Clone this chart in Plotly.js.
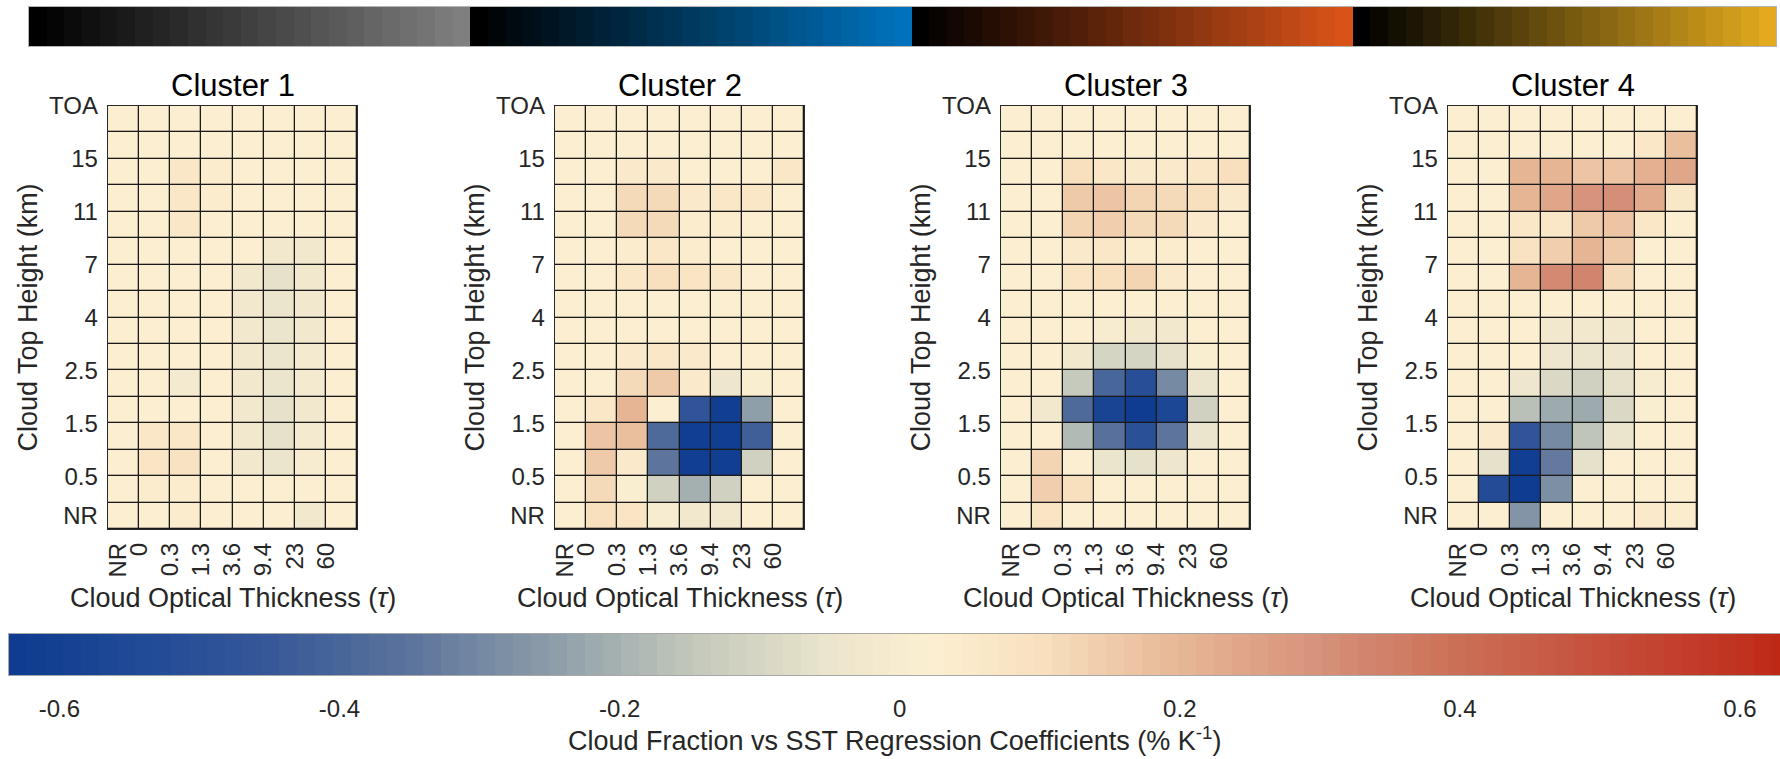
<!DOCTYPE html>
<html>
<head>
<meta charset="utf-8">
<script src="https://cdn.plot.ly/plotly-3.0.1.min.js"></script>
<style>
  html, body { margin: 0; padding: 0; background: #ffffff; }
  #chart { width: 1780px; height: 759px; }
</style>
</head>
<body>
<div id="chart"></div>
<script>
// Regression of cloud fraction on SST in CTH-tau joint histogram space, four clusters.
// Rows run from the top bin (TOA) down to the NR bin; columns run over optical thickness bins.

const clusterNames = ['Cluster 1', 'Cluster 2', 'Cluster 3', 'Cluster 4'];

const tauTickText = ['NR', '0', '0.3', '1.3', '3.6', '9.4', '23', '60'];
const cthTickText = ['NR', '0.5', '1.5', '2.5', '4', '7', '11', '15', 'TOA'];

const cluster1 = [
  [0.03, 0.03, 0.03, 0.03, 0.03, 0.03, 0.03, 0.03],
  [0.03, 0.03, 0.02, 0.02, 0.03, 0.03, 0.03, 0.03],
  [0.03, 0.03, 0.06, 0.04, 0.03, 0.03, 0.03, 0.03],
  [0.03, 0.03, 0.07, 0.04, 0.03, 0.03, 0.03, 0.03],
  [0.03, 0.03, 0.06, 0.03, 0.03, 0.02, 0.02, 0.03],
  [0.03, 0.03, 0.03, 0.03, 0.02, -0.03, -0.02, 0.03],
  [0.03, 0.03, 0.03, 0.03, -0.03, -0.06, -0.03, 0.03],
  [0.03, 0.03, 0.03, 0.03, -0.02, -0.05, -0.02, 0.02],
  [0.03, 0.03, 0.03, 0.02, -0.02, -0.05, -0.02, 0.02],
  [0.03, 0.03, 0.02, 0.02, -0.02, -0.05, -0.01, 0.02],
  [0.03, 0.03, -0.01, 0.02, -0.02, -0.05, -0.01, 0.02],
  [0.03, 0.03, 0.02, 0.02, -0.02, -0.06, -0.02, 0.02],
  [0.03, 0.06, 0.07, 0.03, -0.02, -0.06, -0.01, 0.02],
  [0.03, 0.08, 0.09, 0.03, -0.02, -0.05, 0.00, 0.02],
  [0.03, 0.04, 0.04, 0.03, 0.02, 0.02, 0.02, 0.03],
  [0.03, 0.03, 0.04, 0.02, 0.02, 0.02, -0.03, 0.02]
];

const cluster2 = [
  [0.03, 0.02, 0.02, 0.02, 0.02, 0.02, 0.02, 0.03],
  [0.03, 0.02, 0.02, 0.02, 0.03, 0.03, 0.03, 0.03],
  [0.03, 0.02, 0.05, 0.05, 0.03, 0.03, 0.03, 0.06],
  [0.03, 0.02, 0.12, 0.12, 0.05, 0.06, 0.06, 0.03],
  [0.03, 0.02, 0.12, 0.12, 0.04, 0.04, 0.03, 0.03],
  [0.03, 0.02, 0.04, 0.06, 0.04, 0.03, 0.03, 0.03],
  [0.03, 0.02, 0.06, 0.10, 0.08, 0.07, 0.03, 0.03],
  [0.03, 0.02, 0.02, 0.03, 0.03, 0.03, 0.03, 0.03],
  [0.03, 0.02, 0.03, 0.03, 0.03, 0.03, 0.03, 0.03],
  [0.03, 0.03, 0.05, 0.07, 0.05, 0.03, 0.03, 0.03],
  [0.03, 0.03, 0.12, 0.16, 0.05, -0.04, 0.01, 0.03],
  [0.03, 0.06, 0.21, 0.02, -0.47, -0.62, -0.24, 0.03],
  [0.03, 0.17, 0.18, -0.38, -0.62, -0.62, -0.43, 0.03],
  [0.03, 0.15, 0.05, -0.35, -0.62, -0.62, -0.12, 0.03],
  [0.03, 0.12, 0.01, -0.12, -0.20, -0.12, 0.03, 0.03],
  [0.03, 0.10, 0.08, 0.00, -0.03, -0.02, 0.03, 0.03]
];

const cluster3 = [
  [0.03, 0.03, 0.03, 0.03, 0.03, 0.03, 0.03, 0.03],
  [0.03, 0.03, 0.03, 0.03, 0.03, 0.03, 0.03, 0.03],
  [0.03, 0.02, 0.10, 0.07, 0.05, 0.05, 0.07, 0.10],
  [0.03, 0.02, 0.16, 0.17, 0.13, 0.12, 0.10, 0.05],
  [0.03, 0.02, 0.13, 0.14, 0.12, 0.12, 0.05, 0.03],
  [0.03, 0.02, 0.05, 0.06, 0.04, 0.04, 0.03, 0.03],
  [0.03, 0.02, 0.08, 0.10, 0.13, 0.05, 0.03, 0.03],
  [0.03, 0.03, 0.03, 0.03, 0.03, 0.03, 0.03, 0.03],
  [0.03, 0.03, 0.03, 0.00, -0.02, -0.02, 0.02, 0.03],
  [0.03, 0.03, -0.03, -0.10, -0.10, -0.07, 0.01, 0.03],
  [0.03, 0.03, -0.14, -0.40, -0.52, -0.30, -0.05, 0.03],
  [0.03, -0.03, -0.38, -0.58, -0.64, -0.56, -0.12, 0.03],
  [0.03, 0.03, -0.18, -0.36, -0.50, -0.35, -0.05, 0.03],
  [0.03, 0.13, 0.03, -0.05, -0.06, -0.04, 0.02, 0.03],
  [0.03, 0.14, 0.10, 0.03, 0.03, 0.03, 0.03, 0.03],
  [0.03, 0.08, 0.03, 0.03, 0.03, 0.03, 0.03, 0.03]
];

const cluster4 = [
  [0.03, 0.03, 0.03, 0.03, 0.03, 0.03, 0.03, 0.03],
  [0.03, 0.03, 0.03, 0.03, 0.03, 0.03, 0.06, 0.18],
  [0.03, 0.02, 0.20, 0.20, 0.17, 0.17, 0.22, 0.25],
  [0.03, 0.02, 0.20, 0.24, 0.29, 0.31, 0.23, 0.07],
  [0.03, 0.03, 0.06, 0.06, 0.15, 0.17, 0.06, 0.03],
  [0.03, 0.03, 0.09, 0.14, 0.21, 0.16, 0.03, 0.03],
  [0.03, 0.03, 0.20, 0.32, 0.34, 0.12, 0.03, 0.03],
  [0.03, 0.03, 0.03, 0.03, 0.02, 0.03, 0.03, 0.03],
  [0.03, 0.03, 0.02, -0.02, -0.03, -0.03, 0.02, 0.03],
  [0.03, 0.03, 0.02, -0.04, -0.05, -0.04, 0.02, 0.03],
  [0.03, 0.03, -0.04, -0.09, -0.11, -0.07, 0.00, 0.03],
  [0.03, 0.03, -0.17, -0.22, -0.22, -0.09, 0.01, 0.03],
  [0.03, 0.05, -0.48, -0.30, -0.15, -0.05, 0.02, 0.03],
  [0.03, -0.06, -0.62, -0.34, -0.07, 0.02, 0.03, 0.03],
  [0.03, -0.53, -0.63, -0.28, 0.03, 0.03, 0.03, 0.03],
  [0.03, 0.03, -0.27, 0.03, 0.03, 0.03, 0.05, 0.04]
];

const clusterData = [cluster1, cluster2, cluster3, cluster4];

// Diverging colormap anchors (value, colour) and its colour limits
const cmapValues = [-0.636, -0.55, -0.45, -0.35, -0.25, -0.15, -0.05, 0.02, 0.10, 0.20, 0.30, 0.40, 0.50, 0.60, 0.636];
const cmapColors = ['#0e3b90', '#1f4996', '#365898', '#5b749c', '#8c9ca8', '#c2c7bb', '#ebe5cc', '#fcefd1',
                    '#f8e0bf', '#e7b796', '#d6917a', '#cb6f56', '#c54f3b', '#c03220', '#bd2714'];
const cmapLevels = 99;
const climits = [-0.636, 0.636];
const cbarTicks = [-0.6, -0.4, -0.2, 0, 0.2, 0.4, 0.6];
const cbarTickText = ['-0.6', '-0.4', '-0.2', '0', '0.2', '0.4', '0.6'];

// Cluster identification strip: each cluster ramps from black to its colour
const clusterShades = ['#7f7f7f', '#0072bd', '#d95319', '#edb120'];
const shadeSteps = 25;

const W = 1780, H = 759;
const plotLefts = [108, 555, 1001, 1448];
const plotWidth = 249;
const plotTop = 106, plotBottom = 529;

function hexToRgb(h) {
  return [parseInt(h.slice(1, 3), 16), parseInt(h.slice(3, 5), 16), parseInt(h.slice(5, 7), 16)];
}
function rgbStr(c) {
  return 'rgb(' + c.map(v => Math.round(v)).join(',') + ')';
}
function cmapAt(v) {
  if (v <= cmapValues[0]) return hexToRgb(cmapColors[0]);
  for (let i = 1; i < cmapValues.length; i++) {
    if (v <= cmapValues[i]) {
      const t = (v - cmapValues[i - 1]) / (cmapValues[i] - cmapValues[i - 1]);
      const a = hexToRgb(cmapColors[i - 1]), b = hexToRgb(cmapColors[i]);
      return a.map((x, k) => x + (b[k] - x) * t);
    }
  }
  return hexToRgb(cmapColors[cmapColors.length - 1]);
}

// Quantised colorscale, like a colormap with a fixed number of entries
const divergingScale = [];
const levelCenters = [];
for (let i = 0; i < cmapLevels; i++) {
  const v = climits[0] + (i + 0.5) * (climits[1] - climits[0]) / cmapLevels;
  levelCenters.push(v);
  const c = rgbStr(cmapAt(v));
  divergingScale.push([i / cmapLevels, c]);
  divergingScale.push([(i + 1) / cmapLevels, c]);
}

// Strip colorscale
const stripScale = [];
const stripIndex = [];
const nStrip = clusterShades.length * shadeSteps;
clusterShades.forEach((hex, s) => {
  const end = hexToRgb(hex);
  for (let k = 0; k < shadeSteps; k++) {
    const idx = s * shadeSteps + k;
    const c = rgbStr(end.map(x => x * k / (shadeSteps - 1)));
    stripScale.push([idx / nStrip, c]);
    stripScale.push([(idx + 1) / nStrip, c]);
    stripIndex.push(idx + 0.5);
  }
});

const rowPos = [];
for (let r = 15; r >= 0; r--) rowPos.push(r);
const colPos = [0, 1, 2, 3, 4, 5, 6, 7];
const tauTickVals = [-0.18, 0.5, 1.5, 2.5, 3.5, 4.5, 5.5, 6.5];
const cthTickVals = [0, 1.5, 3.5, 5.5, 7.5, 9.5, 11.5, 13.5, 15.5];

const FONT = 'Liberation Sans, Arial, Helvetica, sans-serif';
const textColor = '#262626';
const tickSize = 24, labelSize = 27, titleSize = 31;

const traces = [];
const layout = {
  width: W, height: H,
  margin: {l: 0, r: 0, t: 0, b: 0, pad: 0},
  paper_bgcolor: '#ffffff',
  plot_bgcolor: '#1a1a1a',
  showlegend: false,
  font: {family: FONT, color: textColor, size: tickSize},
  annotations: []
};

clusterData.forEach((z, i) => {
  const n = i + 1;
  const xa = 'x' + (n === 1 ? '' : n), ya = 'y' + (n === 1 ? '' : n);
  traces.push({
    type: 'heatmap', z: z, x: colPos, y: rowPos,
    xaxis: xa, yaxis: ya,
    colorscale: divergingScale, zmin: climits[0], zmax: climits[1],
    showscale: false, xgap: 1.3, ygap: 1.3, hoverinfo: 'skip'
  });
  const left = plotLefts[i];
  layout['xaxis' + (n === 1 ? '' : n)] = {
    domain: [left / W, (left + plotWidth) / W], anchor: ya,
    range: [-0.5, 7.5], tickmode: 'array', tickvals: tauTickVals, ticktext: tauTickText,
    tickangle: -90, ticks: '', ticklabelstandoff: 3,
    showgrid: false, zeroline: false, showline: true, mirror: true,
    linecolor: '#2a2a2a', linewidth: 1.3, fixedrange: true,
    tickfont: {family: FONT, size: tickSize, color: textColor}
  };
  layout['yaxis' + (n === 1 ? '' : n)] = {
    domain: [1 - plotBottom / H, 1 - plotTop / H], anchor: xa,
    range: [-0.5, 15.5], tickmode: 'array', tickvals: cthTickVals, ticktext: cthTickText,
    ticks: '', ticklabelstandoff: 4,
    showgrid: false, zeroline: false, showline: true, mirror: true,
    linecolor: '#2a2a2a', linewidth: 1.3, fixedrange: true,
    tickfont: {family: FONT, size: tickSize, color: textColor}
  };
  const cx = left + plotWidth / 2;
  layout.annotations.push({
    text: clusterNames[i], xref: 'paper', yref: 'paper',
    x: cx / W, y: 1 - 86 / H, xanchor: 'center', yanchor: 'middle',
    showarrow: false, font: {family: FONT, size: titleSize, color: '#000000'}
  });
  layout.annotations.push({
    text: 'Cloud Optical Thickness (<i>τ</i>)', xref: 'paper', yref: 'paper',
    x: cx / W, y: 1 - 598 / H, xanchor: 'center', yanchor: 'middle',
    showarrow: false, font: {family: FONT, size: labelSize, color: textColor}
  });
  layout.annotations.push({
    text: 'Cloud Top Height (km)', xref: 'paper', yref: 'paper',
    x: (left - 81) / W, y: 1 - (plotTop + plotBottom) / 2 / H,
    xanchor: 'center', yanchor: 'middle', textangle: -90,
    showarrow: false, font: {family: FONT, size: labelSize, color: textColor}
  });
});

// Cluster colour strip along the top
traces.push({
  type: 'heatmap', z: [stripIndex], x: stripIndex.map((v, k) => k), y: [0],
  xaxis: 'x5', yaxis: 'y5', colorscale: stripScale, zmin: 0, zmax: nStrip,
  showscale: false, hoverinfo: 'skip'
});
layout.xaxis5 = {
  domain: [29 / W, 1776 / W], anchor: 'y5', range: [-0.5, nStrip - 1.5],
  showticklabels: false, ticks: '', showgrid: false, zeroline: false,
  showline: true, mirror: true, linecolor: '#b4b4b4', linewidth: 1, fixedrange: true
};
layout.yaxis5 = {
  domain: [1 - 46 / H, 1 - 7 / H], anchor: 'x5', range: [-0.5, 0.5],
  showticklabels: false, ticks: '', showgrid: false, zeroline: false,
  showline: true, mirror: true, linecolor: '#b4b4b4', linewidth: 1, fixedrange: true
};

// Horizontal colour bar for the regression coefficients
traces.push({
  type: 'heatmap', z: [levelCenters], x: levelCenters, y: [0],
  xaxis: 'x6', yaxis: 'y6', colorscale: divergingScale,
  zmin: climits[0], zmax: climits[1], showscale: false, hoverinfo: 'skip'
});
layout.xaxis6 = {
  domain: [9 / W, 1], anchor: 'y6', range: [climits[0], (W - 900) / 1400],
  tickmode: 'array', tickvals: cbarTicks, ticktext: cbarTickText,
  ticks: '', ticklabelstandoff: 12, showgrid: false, zeroline: false,
  showline: true, mirror: true, linecolor: '#a8a8a8', linewidth: 1, fixedrange: true,
  tickfont: {family: FONT, size: 24, color: textColor}
};
layout.yaxis6 = {
  domain: [1 - 675 / H, 1 - 634 / H], anchor: 'x6', range: [-0.5, 0.5],
  showticklabels: false, ticks: '', showgrid: false, zeroline: false,
  showline: true, mirror: true, linecolor: '#a8a8a8', linewidth: 1, fixedrange: true
};
layout.annotations.push({
  text: 'Cloud Fraction vs SST Regression Coefficients (% K<sup>-1</sup>)',
  xref: 'paper', yref: 'paper', x: 895 / W, y: 1 - 739 / H,
  xanchor: 'center', yanchor: 'middle', showarrow: false,
  font: {family: FONT, size: 27, color: textColor}
});

Plotly.newPlot('chart', traces, layout, {displayModeBar: false, staticPlot: true});
</script>
</body>
</html>
